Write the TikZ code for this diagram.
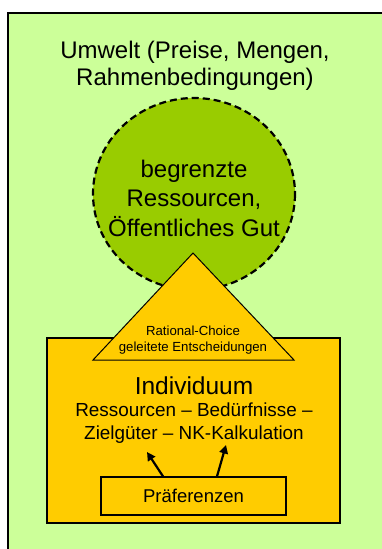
\documentclass[tikz,border=0pt]{standalone}
\usepackage{fontspec}
\setmainfont{Liberation Sans}
\usetikzlibrary{arrows.meta}
\definecolor{envgreen}{HTML}{CCFF99}
\definecolor{resgreen}{HTML}{99CC00}
\definecolor{indorange}{HTML}{FFCC00}
\tikzset{
  txt/.style={inner sep=0pt, align=center, text=black},
  arr/.style={-{Triangle[length=8.5pt,width=8.5pt]}, line width=2.2pt},
}
\begin{document}
\begin{tikzpicture}[x=1pt,y=-1pt]
\useasboundingbox (0,0) rectangle (382,549);
\fill[white] (0,0) rectangle (382,549);
% environment frame (continues past the right and bottom edges)
\fill[envgreen] (8,13) rectangle (382,549);
\draw[line width=1.8pt, line cap=rect] (8,549) -- (8,13) -- (382,13);
\node[txt, font=\fontsize{24}{27.5}\selectfont] (env) at (195,66)
  {Umwelt (Preise, Mengen,\\Rahmenbedingungen)};
% limited resources
\draw[fill=resgreen, dash pattern=on 7pt off 4pt, line width=2.2pt]
  (194,194) ellipse [x radius=101, y radius=96];
\node[txt, font=\fontsize{24}{29.5}\selectfont] (res) at (194,198)
  {begrenzte\\Ressourcen,\\Öffentliches Gut};
% individual
\draw[fill=indorange, line width=1.3pt] (47,338) rectangle (340,523);
\draw[fill=indorange, line width=1pt, line join=miter] (93,360) -- (193,253) -- (294,360) -- cycle;
\node[txt, font=\fontsize{13.2}{16.5}\selectfont] (rc) at (193,340)
  {Rational-Choice\\geleitete Entscheidungen};
\node[txt, font=\fontsize{24.5}{27}\selectfont] (ind) at (194,386) {Individuum};
\node[txt, font=\fontsize{18.9}{22.5}\selectfont] (calc) at (194,423)
  {Ressourcen – Bedürfnisse –\\Zielgüter – NK-Kalkulation};
\node[draw, line width=1.3pt, fill=indorange, minimum width=185pt, minimum height=38pt,
      inner sep=0pt, font=\fontsize{18.5}{22.5}\selectfont] (pref) at (193.5,496) {Präferenzen};
\coordinate (a1) at (147,452);
\coordinate (a2) at (226,445);
\draw[arr] (pref.north -| 163,0) -- (a1);
\draw[arr] (pref.north -| 217,0) -- (a2);
\end{tikzpicture}
\end{document}
